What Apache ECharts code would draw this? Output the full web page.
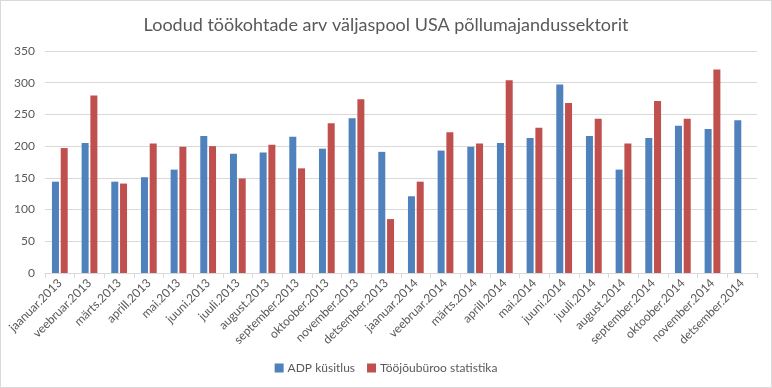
<!DOCTYPE html>
<html><head><meta charset="utf-8">
<script src="https://cdn.jsdelivr.net/npm/echarts@6/dist/echarts.min.js"></script>
<style>html,body{margin:0;padding:0;background:#fff}#c{width:772px;height:388px;box-sizing:border-box;border:1px solid #d9d9d9}</style>
</head><body><div id="c"></div>
<script>
const categories = ["jaanuar.2013","veebruar.2013","märts.2013","aprill.2013","mai.2013","juuni.2013","juuli.2013","august.2013","september.2013","oktoober.2013","november.2013","detsember.2013","jaanuar.2014","veebruar.2014","märts.2014","aprill.2014","mai.2014","juuni.2014","juuli.2014","august.2014","september.2014","oktoober.2014","november.2014","detsember.2014"];
const adp = [144,205,144,151,163,216,188,190,215,196,244,191,121,193,199,205,213,297,216,163,213,232,227,241];
const bls = [197,280,141,204,199,200,149,202,165,236,274,85,144,222,204,304,229,268,243,204,271,243,321,null];
const yTicks = {min:0, max:350, interval:50};
const chart = echarts.init(document.getElementById('c'), null, {renderer:'canvas'});
const font = 'Lato, "Open Sans", sans-serif';
chart.setOption({
  animation:false,
  title:{text:'Loodud töökohtade arv väljaspool USA põllumajandussektorit', left:'center', top:10,
    textStyle:{fontFamily:font, fontSize:18, fontWeight:'normal', color:'#595959'}},
  legend:{bottom:8, left:'center', itemWidth:9, itemHeight:9, itemGap:12, icon:'rect',
    textStyle:{fontFamily:font, fontSize:12, color:'#595959', padding:[0,0,0,-1]}},
  grid:{left:44, right:14, top:50, bottom:114},
  xAxis:{type:'category', data:categories,
    axisLine:{lineStyle:{color:'#d9d9d9'}},
    axisTick:{show:true, alignWithLabel:false, length:5, lineStyle:{color:'#d9d9d9'}},
    axisLabel:{rotate:45, interval:0, fontFamily:font, fontSize:12, color:'#595959', margin:8}},
  yAxis:{type:'value', min:yTicks.min, max:yTicks.max, interval:yTicks.interval,
    axisLine:{show:false}, axisTick:{show:false},
    splitLine:{lineStyle:{color:'#d9d9d9'}},
    axisLabel:{fontFamily:font, fontSize:12, color:'#595959', margin:10}},
  series:[
    {name:'ADP küsitlus', type:'bar', data:adp, barWidth:7, barGap:'25%', itemStyle:{color:'#4F81BD'}},
    {name:'Tööjõubüroo statistika', type:'bar', data:bls, barWidth:7, itemStyle:{color:'#C0504D'}}
  ]
});
</script></body></html>
